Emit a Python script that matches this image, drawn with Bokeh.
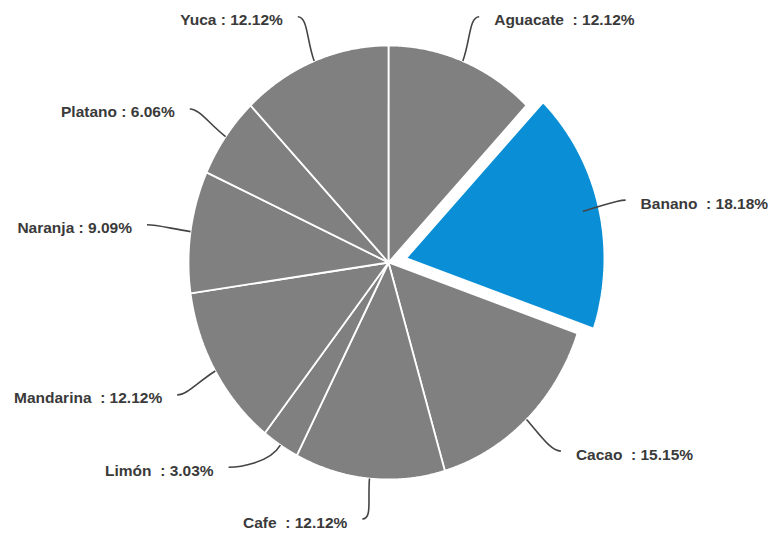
import numpy as np
from bokeh.plotting import figure
from bokeh.models import Range1d, ColumnDataSource
from bokeh.core.properties import value
from bokeh.embed import file_html
from bokeh.resources import INLINE

# ---- data ----
categories = ["Aguacate\u00a0", "Banano\u00a0", "Cacao\u00a0", "Cafe\u00a0", "Limón\u00a0",
              "Mandarina\u00a0", "Naranja", "Platano", "Yuca"]
counts = [4, 6, 5, 4, 1, 4, 3, 2, 4]
highlight = "Banano\u00a0"

# ---- style / layout ----
GRAY = "#808080"
BLUE = "#0a8fd6"
W, H = 768, 537
PX_X, PX_Y = 200.0, 217.0          # pixels per data unit (pie slightly taller than wide)
CX, CY = 388.0, 262.0               # pie centre on the canvas
explode_px = 17.0
label_nudge = {"Limón\u00a0": (-28.0, -18.0),     # pixel nudges (right, down)
               "Cafe\u00a0": (-3.0, -7.0),
               "Cacao\u00a0": (4.0, -3.0)}

total = float(sum(counts))
pcts = [c / total * 100 for c in counts]

p = figure(width=W, height=H, output_backend="svg", toolbar_location=None,
           x_range=Range1d(-CX / PX_X, (W - CX) / PX_X),
           y_range=Range1d(-(H - CY) / PX_Y, CY / PX_Y),
           min_border=0)
p.axis.visible = False
p.grid.visible = False
p.outline_line_color = None
p.background_fill_color = "white"

xs, ys, fills, lws = [], [], [], []
bx0, by0, bx1, by1, bcx0, bcy0, bcx1, bcy1 = ([] for _ in range(8))
lx, ly, ltext, lalign, lxo = [], [], [], [], []

start = np.pi / 2
for name, c, pc in zip(categories, counts, pcts):
    span = c / total * 2 * np.pi
    a0, a1 = start, start - span
    mid = (a0 + a1) / 2
    ox = oy = 0.0
    if name == highlight:
        ox = explode_px * np.cos(mid) / PX_X
        oy = explode_px * np.sin(mid) / PX_Y
    th = np.linspace(a0, a1, 120)
    xs.append(list(np.concatenate([[ox], ox + np.cos(th)])))
    ys.append(list(np.concatenate([[oy], oy + np.sin(th)])))
    fills.append(BLUE if name == highlight else GRAY)
    lws.append(3 if name == highlight else 1.8)

    # leader line (computed from un-exploded position)
    cm, sm = np.cos(mid), np.sin(mid)
    nx, ny = label_nudge.get(name, (0.0, 0.0))
    ex = 1.22 * cm + nx / PX_X
    ey = 1.22 * sm - ny / PX_Y
    side = 1 if cm > 0 else -1
    bx0.append(cm); by0.append(sm)
    bcx0.append(1.1 * cm); bcy0.append(1.1 * sm)
    bcx1.append(ex - side * 10 / PX_X); bcy1.append(ey)
    bx1.append(ex); by1.append(ey)

    lx.append(ex); ly.append(ey)
    ltext.append(f"{name} : {pc:.2f}%")
    lalign.append("left" if side > 0 else "right")
    lxo.append(15 * side)
    start = a1

p.patches(xs, ys, fill_color=fills, line_color="white", line_width=lws)

p.bezier(x0=bx0, y0=by0, x1=bx1, y1=by1, cx0=bcx0, cy0=bcy0, cx1=bcx1, cy1=bcy1,
         line_color="#444444", line_width=1.6)

src = ColumnDataSource(dict(x=lx, y=ly, t=ltext, a=lalign, xo=lxo))
p.text(x="x", y="y", text="t", text_align="a", x_offset="xo", y_offset=3,
       text_baseline="middle", source=src,
       text_font=value("Liberation Sans"), text_font_style="bold",
       text_font_size="15.5px", text_color="#3a3a3a")

open("out.html", "w").write(file_html(p, INLINE))
